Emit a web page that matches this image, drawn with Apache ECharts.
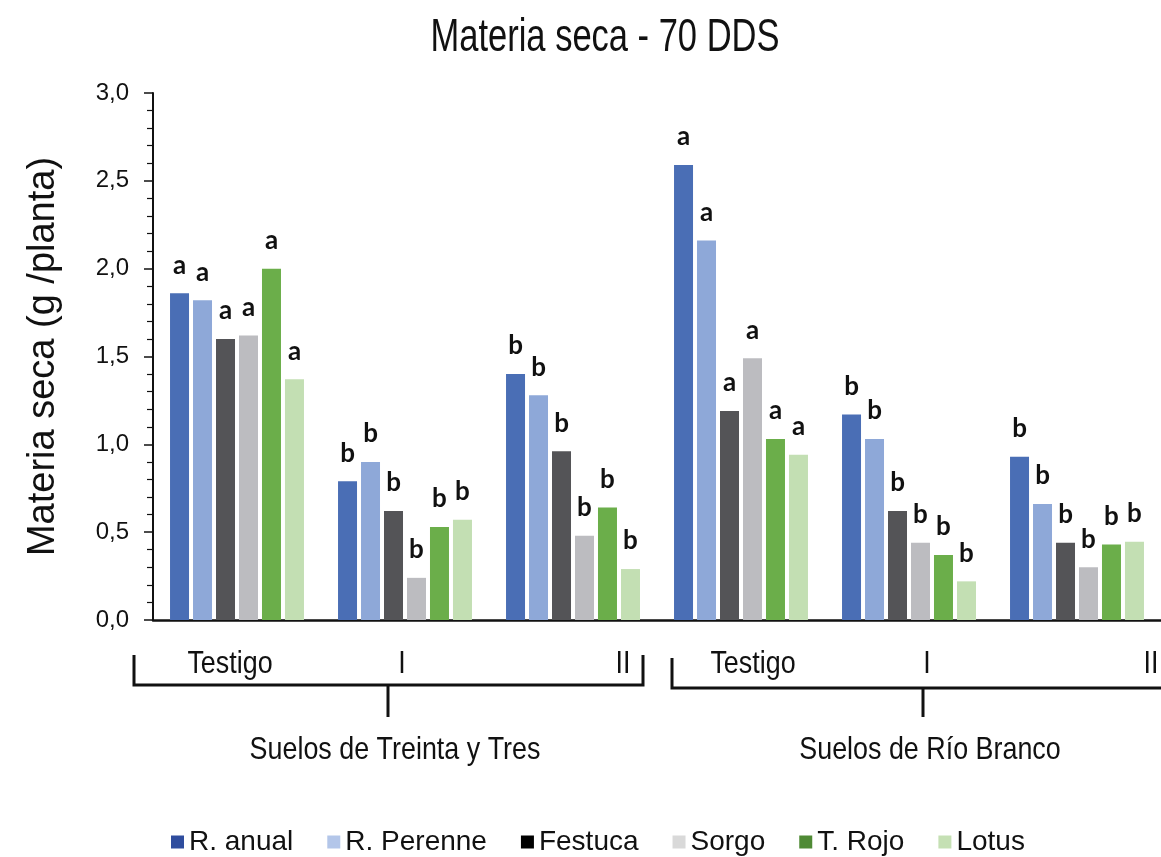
<!DOCTYPE html>
<html>
<head>
<meta charset="utf-8">
<script src="https://cdn.jsdelivr.net/npm/echarts@6/dist/echarts.min.js"></script>
<style>
  html, body { margin: 0; padding: 0; background: #fff; }
  #chart { width: 1161px; height: 857px; }
</style>
</head>
<body>
<div id="chart"></div>
<script>
// categorias: suelo + tratamiento
const categories = ['TyT Testigo', 'TyT I', 'TyT II', 'RB Testigo', 'RB I', 'RB II']
const treatmentLabels = ['Testigo', 'I', 'II', 'Testigo', 'I', 'II']
const soilLabels = ['Suelos de Treinta y Tres', 'Suelos de Río Branco']

const speciesNames = ['R. anual', 'R. Perenne', 'Festuca', 'Sorgo', 'T. Rojo', 'Lotus']
const rAnual = [1.86, 0.79, 1.40, 2.59, 1.17, 0.93]
const rPerenne = [1.82, 0.90, 1.28, 2.16, 1.03, 0.66]
const festuca = [1.60, 0.62, 0.96, 1.19, 0.62, 0.44]
const sorgo = [1.62, 0.24, 0.48, 1.49, 0.44, 0.30]
const tRojo = [2.00, 0.53, 0.64, 1.03, 0.37, 0.43]
const lotus = [1.37, 0.57, 0.29, 0.94, 0.22, 0.445]
// letras de significancia (igual para todas las especies)
const letters = ['a', 'b', 'b', 'a', 'b', 'b']

const yTicks = [0, 0.5, 1.0, 1.5, 2.0, 2.5, 3.0]

const barColors = ['#4a6eb5', '#8ea8d8', '#545457', '#bcbcc0', '#6bae4a', '#c3dfb3']
const legendColors = ['#2f4d9e', '#b3c6e9', '#000000', '#d9d9d9', '#4f8a35', '#c5e0b4']

const font = "'Liberation Sans', Arial, sans-serif"

const seriesValues = [rAnual, rPerenne, festuca, sorgo, tRojo, lotus]

const chart = echarts.init(document.getElementById('chart'))

// texto angosto (tipo Arial Narrow)
const narrowText = (text, x, y, size, sx) => ({
    type: 'text',
    x: x,
    y: y,
    scaleX: sx,
    style: { text: text, fontFamily: font, fontSize: size, fill: '#111', align: 'center', verticalAlign: 'middle' }
})

const option = {
    animation: false,
    backgroundColor: '#fff',
    legend: {
        left: 166,
        top: 823,
        itemWidth: 13,
        itemHeight: 13,
        itemGap: 34,
        icon: 'rect',
        textStyle: { fontFamily: font, fontSize: 28, color: '#111' },
        data: speciesNames.map((n, i) => ({ name: n, itemStyle: { color: legendColors[i] } }))
    },
    grid: {
        left: 153,
        top: 93,
        width: 1021,
        height: 527
    },
    xAxis: {
        type: 'category',
        data: categories,
        axisLine: { lineStyle: { color: '#111', width: 2.5 } },
        axisTick: { show: false },
        axisLabel: { show: false }
    },
    yAxis: {
        type: 'value',
        min: yTicks[0],
        max: yTicks[yTicks.length - 1],
        interval: 0.5,
        name: 'Materia seca (g /planta)',
        nameLocation: 'middle',
        nameRotate: 90,
        nameGap: 90,
        nameTextStyle: { fontFamily: font, fontSize: 38, color: '#111' },
        axisLine: { show: true, lineStyle: { color: '#111', width: 2 } },
        axisTick: { show: true, inside: false, length: 9, lineStyle: { color: '#111', width: 1.5 } },
        minorTick: { show: true, splitNumber: 5, length: 6, lineStyle: { color: '#111', width: 1.2 } },
        splitLine: { show: false },
        axisLabel: {
            margin: 24,
            fontFamily: font,
            fontSize: 24,
            color: '#111',
            formatter: v => v.toFixed(1).replace('.', ',')
        }
    },
    series: speciesNames.map((name, i) => ({
        name: name,
        type: 'bar',
        barWidth: 19,
        barGap: '21%',
        itemStyle: { color: barColors[i] },
        label: {
            show: true,
            position: 'top',
            distance: 15,
            fontFamily: 'Lato, sans-serif',
            fontWeight: 'bold',
            fontSize: 26,
            color: '#111',
            formatter: p => letters[p.dataIndex]
        },
        data: seriesValues[i]
    })),
    graphic: [
        narrowText('Materia seca - 70 DDS', 605, 38, 46, 0.75),
        // corchete Treinta y Tres
        { type: 'polyline', shape: { points: [[134, 655], [134, 685], [643, 685], [643, 655]] },
          style: { stroke: '#111', lineWidth: 3, fill: null } },
        { type: 'line', shape: { x1: 388, y1: 685, x2: 388, y2: 717 }, style: { stroke: '#111', lineWidth: 3 } },
        // corchete Río Branco
        { type: 'polyline', shape: { points: [[672, 658], [672, 688], [1170, 688]] },
          style: { stroke: '#111', lineWidth: 3, fill: null } },
        { type: 'line', shape: { x1: 923, y1: 688, x2: 923, y2: 717 }, style: { stroke: '#111', lineWidth: 3 } }
    ]
        .concat(treatmentLabels.map((t, i) =>
            narrowText(t, [230, 402, 623, 753, 927, 1151][i], 664, 32, 0.84)))
        .concat(soilLabels.map((s, i) =>
            narrowText(s, [395, 930][i], 750, 32, 0.84)))
}

chart.setOption(option)
window.onresize = () => {
    chart.resize()
}
</script>
</body>
</html>
